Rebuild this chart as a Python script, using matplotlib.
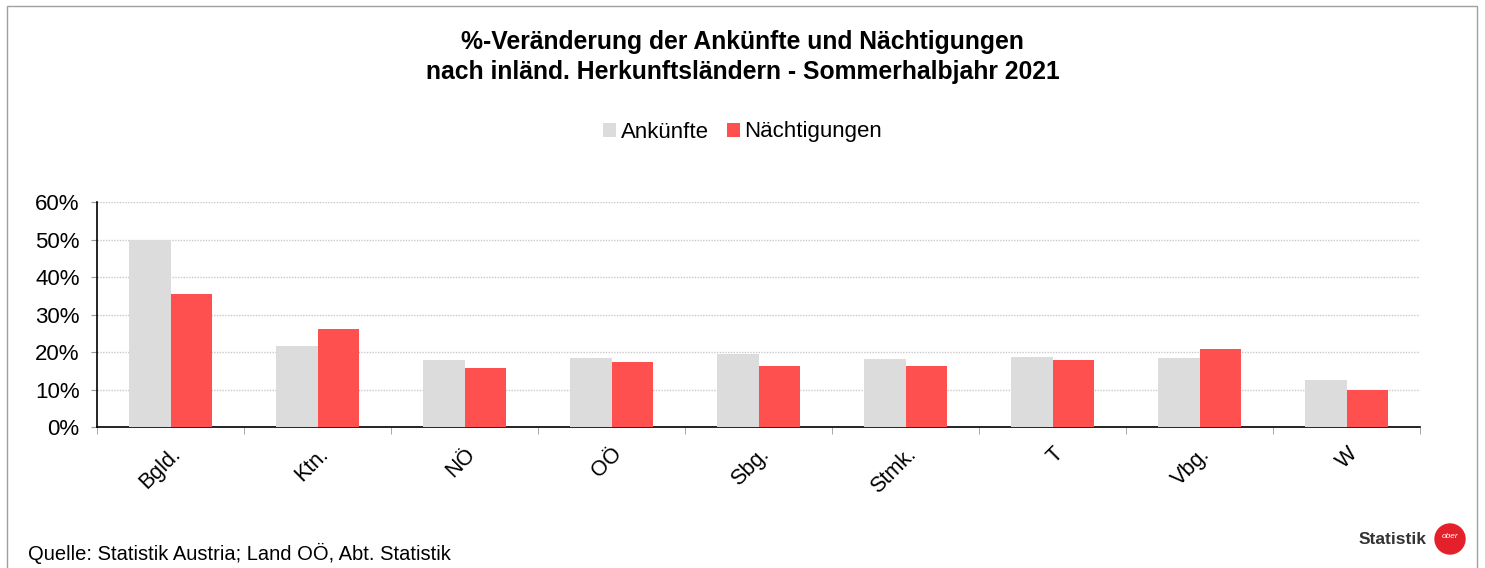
import matplotlib
matplotlib.use("Agg")
import matplotlib.pyplot as plt
import numpy as np
from matplotlib.patches import Ellipse, Rectangle

plt.rcParams['font.family'] = ['Liberation Sans', 'DejaVu Sans']

categories = ["Bgld.", "Ktn.", "NÖ", "OÖ", "Sbg.", "Stmk.", "T", "Vbg.", "W"]
ankuenfte = [49.9, 21.6, 17.9, 18.3, 19.5, 18.2, 18.7, 18.4, 12.6]
naechtigungen = [35.5, 26.1, 15.7, 17.4, 16.3, 16.4, 17.9, 20.8, 9.8]
yticks = [0, 10, 20, 30, 40, 50, 60]
series_names = ["Ankünfte", "Nächtigungen"]
colors = ["#DCDCDC", "#FF5050"]

W, H = 1485, 568
fig = plt.figure(figsize=(W/100, H/100), dpi=100)
ax = fig.add_axes([97/W, 1-427/H, (1420-97)/W, (427-202)/H])

x = np.arange(len(categories))
bw = 0.285
b1 = ax.bar(x - bw/2, ankuenfte, bw, color=colors[0], label=series_names[0], zorder=3)
b2 = ax.bar(x + bw/2, naechtigungen, bw, color=colors[1], label=series_names[1], zorder=3)

ax.set_xlim(-0.5, len(categories) - 0.5)
ax.set_ylim(0, 60)
ax.set_yticks(yticks)
ax.set_yticklabels([f"{v}%" for v in yticks], fontsize=16)
ax.yaxis.grid(True, linestyle=(0, (1, 1)), color="#C8C8C8", linewidth=1, zorder=0)
ax.set_xticks(x)
ax.set_xticklabels(categories, rotation=45, ha='right', rotation_mode='anchor', fontsize=15.5)
ax.tick_params(axis='x', length=0, pad=12)
ax.set_xticks(np.arange(len(categories) + 1) - 0.5, minor=True)
ax.tick_params(axis='x', which='minor', length=5, color="#999999", direction='out')
ax.tick_params(axis='y', length=4.5, color="#999999", pad=8)
for s in ["top", "right"]:
    ax.spines[s].set_visible(False)
ax.spines["left"].set_color("black")
ax.spines["bottom"].set_color("black")
ax.spines["left"].set_linewidth(1.2)
ax.spines["bottom"].set_linewidth(1.2)

fig.text(0.5, 1-42/H, "%-Veränderung der Ankünfte und Nächtigungen", ha='center', va='center',
         fontsize=17.8, fontweight='bold')
fig.text(0.5, 1-72/H, "nach inländ. Herkunftsländern - Sommerhalbjahr 2021", ha='center', va='center',
         fontsize=17.8, fontweight='bold')

fig.legend(handles=[b1, b2], labels=series_names, loc='center', bbox_to_anchor=(0.5, 1-132/H),
           ncol=2, frameon=False, fontsize=16, handlelength=0.6, handleheight=0.6,
           handletextpad=0.2, columnspacing=0.8)

fig.text(28/W, 1-553/H, "Quelle: Statistik Austria; Land OÖ, Abt. Statistik", ha='left', va='center', fontsize=14.5)

# Logo
fig.text(1427/W, 1-540/H, "Statistik", ha='right', va='center', fontsize=12.5, fontweight='bold', color="#333333")
fig.patches.append(Ellipse((1450/W, 1-539/H), 30/W, 30/H, transform=fig.transFigure,
                           color="#E4202A", zorder=5))
fig.text(1450/W, 1-537/H, "ober", ha='center', va='center', fontsize=6, color='white',
         style='italic', zorder=6)

# figure border
fig.patches.append(Rectangle((7/W, -0.05), (1477-7)/W, 1.05-6/H, transform=fig.transFigure,
                             fill=False, edgecolor="#A0A0A0", linewidth=1))

fig.savefig("out.png", dpi=100)
